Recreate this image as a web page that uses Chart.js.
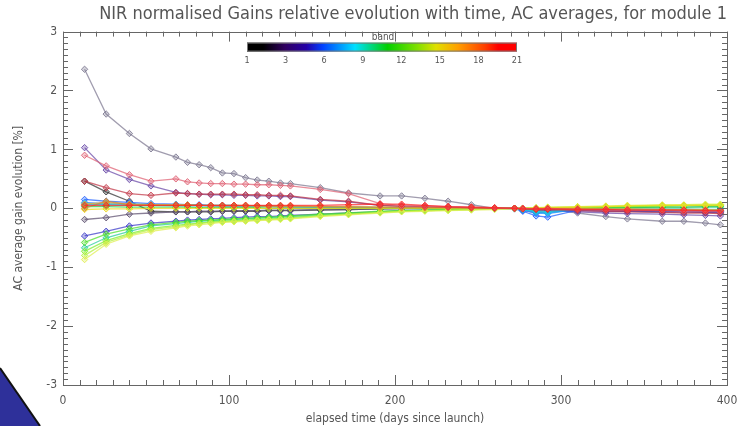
<!DOCTYPE html>
<html><head><meta charset="utf-8">
<script src="https://cdn.jsdelivr.net/npm/chart.js@4.4.1/dist/chart.umd.min.js"></script>
<style>html,body{margin:0;padding:0;background:#fff}#wrap{width:740px;height:426px;position:relative}</style>
</head><body><div id="wrap"><canvas id="c" width="740" height="426"></canvas></div>
<script>
// ---------- DATA ----------
const days = [13, 26, 40, 53, 68, 75, 82, 89, 96, 103, 110, 117, 124, 131, 137, 155, 172, 191, 204, 218, 232, 246, 260, 272, 277, 285, 292, 310, 327, 340, 361, 374, 387, 396];

const band1  = [0.46, 0.28, 0.12, -0.05, -0.06, -0.06, -0.06, -0.06, -0.05, -0.05, -0.05, -0.05, -0.04, -0.04, -0.04, -0.03, -0.02, -0.01, 0.00, 0.00, 0.00, 0.00, 0.00, 0.00, 0.00, -0.02, -0.01, -0.02, -0.03, -0.03, -0.04, -0.05, -0.05, -0.06];
const band2  = [2.36, 1.60, 1.27, 1.01, 0.87, 0.78, 0.74, 0.69, 0.60, 0.59, 0.52, 0.48, 0.46, 0.43, 0.42, 0.35, 0.26, 0.21, 0.21, 0.17, 0.12, 0.06, 0.00, 0.00, -0.03, -0.03, -0.01, -0.08, -0.14, -0.18, -0.22, -0.22, -0.25, -0.28];
const band3  = [-0.19, -0.16, -0.10, -0.08, -0.06, -0.06, -0.05, -0.05, -0.05, -0.04, -0.04, -0.04, -0.03, -0.03, -0.03, -0.02, -0.02, -0.01, -0.01, 0.00, 0.00, 0.00, 0.00, 0.00, -0.02, -0.04, -0.03, -0.03, -0.04, -0.05, -0.06, -0.06, -0.07, -0.08];
const band4  = [1.03, 0.65, 0.49, 0.38, 0.27, 0.25, 0.24, 0.23, 0.23, 0.22, 0.22, 0.21, 0.21, 0.20, 0.20, 0.14, 0.11, 0.05, 0.03, 0.02, 0.01, 0.00, 0.00, -0.01, -0.03, -0.06, -0.04, -0.06, -0.08, -0.09, -0.10, -0.11, -0.12, -0.13];
const band5  = [-0.47, -0.39, -0.30, -0.25, -0.22, -0.20, -0.19, -0.18, -0.17, -0.16, -0.15, -0.14, -0.14, -0.13, -0.12, -0.10, -0.08, -0.06, -0.04, -0.03, -0.02, -0.01, 0.00, 0.00, -0.03, -0.08, -0.06, -0.04, -0.05, -0.05, -0.06, -0.06, -0.07, -0.07];
const band6  = [0.15, 0.12, 0.10, 0.08, 0.07, 0.06, 0.06, 0.05, 0.05, 0.05, 0.04, 0.04, 0.04, 0.03, 0.03, 0.02, 0.02, 0.01, 0.01, 0.00, 0.00, 0.00, 0.00, -0.01, -0.05, -0.13, -0.15, -0.03, -0.03, -0.04, -0.04, -0.05, -0.05, -0.05];
const band7  = [0.10, 0.08, 0.07, 0.06, 0.05, 0.05, 0.05, 0.04, 0.04, 0.04, 0.04, 0.03, 0.03, 0.03, 0.03, 0.02, 0.02, 0.01, 0.01, 0.00, 0.00, 0.00, 0.00, 0.00, -0.03, -0.08, -0.09, -0.02, -0.02, -0.03, -0.03, -0.03, -0.04, -0.04];
const band8  = [0.06, 0.06, 0.05, 0.05, 0.04, 0.04, 0.04, 0.04, 0.03, 0.03, 0.03, 0.03, 0.03, 0.02, 0.02, 0.02, 0.01, 0.01, 0.00, 0.00, 0.00, 0.00, 0.00, 0.00, -0.02, -0.07, -0.08, -0.01, -0.01, -0.02, -0.02, -0.02, -0.03, -0.03];
const band9  = [0.08, 0.07, 0.07, 0.06, 0.06, 0.06, 0.05, 0.05, 0.05, 0.05, 0.04, 0.04, 0.04, 0.04, 0.03, 0.03, 0.02, 0.01, 0.01, 0.01, 0.00, 0.00, 0.00, 0.00, -0.02, -0.05, -0.06, 0.00, 0.00, -0.01, -0.01, -0.01, -0.02, -0.02];
const band10 = [-0.67, -0.50, -0.39, -0.30, -0.26, -0.24, -0.22, -0.21, -0.20, -0.19, -0.18, -0.17, -0.16, -0.15, -0.14, -0.11, -0.09, -0.06, -0.04, -0.03, -0.02, -0.01, 0.00, 0.00, 0.00, -0.01, 0.00, 0.00, 0.01, 0.01, 0.02, 0.02, 0.02, 0.02];
const band11 = [0.03, 0.03, 0.02, 0.02, 0.02, 0.02, 0.01, 0.01, 0.01, 0.01, 0.01, 0.01, 0.00, 0.00, 0.00, 0.00, 0.00, 0.00, 0.00, 0.00, 0.00, 0.00, 0.00, 0.00, -0.01, -0.02, -0.01, 0.00, 0.01, 0.01, 0.02, 0.02, 0.03, 0.03];
const band12 = [-0.58, -0.44, -0.35, -0.28, -0.24, -0.22, -0.21, -0.20, -0.19, -0.18, -0.17, -0.16, -0.15, -0.14, -0.13, -0.10, -0.08, -0.05, -0.04, -0.03, -0.02, -0.01, 0.00, 0.00, 0.00, 0.00, 0.01, 0.01, 0.02, 0.03, 0.04, 0.05, 0.05, 0.06];
const band13 = [-0.73, -0.55, -0.43, -0.34, -0.29, -0.27, -0.25, -0.23, -0.22, -0.21, -0.20, -0.19, -0.18, -0.17, -0.16, -0.12, -0.10, -0.07, -0.05, -0.04, -0.03, -0.02, -0.01, 0.00, 0.00, 0.00, 0.01, 0.02, 0.03, 0.03, 0.04, 0.05, 0.05, 0.05];
const band14 = [-0.80, -0.58, -0.45, -0.36, -0.31, -0.28, -0.26, -0.24, -0.23, -0.22, -0.21, -0.20, -0.19, -0.18, -0.17, -0.13, -0.10, -0.07, -0.05, -0.04, -0.03, -0.02, -0.01, 0.00, 0.00, 0.01, 0.01, 0.02, 0.03, 0.04, 0.05, 0.05, 0.06, 0.06];
const band15 = [-0.87, -0.61, -0.47, -0.39, -0.33, -0.30, -0.28, -0.26, -0.24, -0.23, -0.22, -0.21, -0.20, -0.19, -0.18, -0.14, -0.11, -0.08, -0.06, -0.05, -0.04, -0.03, -0.02, -0.01, 0.00, 0.01, 0.02, 0.03, 0.04, 0.05, 0.06, 0.06, 0.07, 0.07];
const band16 = [-0.02, -0.01, -0.01, 0.00, 0.00, 0.00, 0.00, 0.00, 0.00, 0.00, 0.00, 0.00, 0.00, 0.00, 0.00, 0.00, 0.00, 0.00, 0.00, 0.00, 0.00, 0.00, 0.00, 0.00, 0.00, 0.00, 0.01, 0.02, 0.03, 0.04, 0.05, 0.05, 0.05, 0.05];
const band17 = [0.07, 0.10, 0.07, 0.06, 0.06, 0.06, 0.05, 0.05, 0.05, 0.05, 0.05, 0.04, 0.04, 0.04, 0.04, 0.03, 0.03, 0.02, 0.02, 0.01, 0.01, 0.01, 0.00, 0.00, 0.00, 0.00, 0.00, 0.00, -0.01, -0.01, -0.02, -0.02, -0.02, -0.03];
const band18 = [0.00, 0.12, 0.06, 0.05, 0.05, 0.05, 0.05, 0.04, 0.04, 0.04, 0.04, 0.04, 0.03, 0.03, 0.03, 0.03, 0.02, 0.02, 0.01, 0.01, 0.01, 0.00, 0.00, 0.00, 0.00, -0.01, -0.01, -0.01, -0.02, -0.02, -0.02, -0.03, -0.03, -0.03];
const band19 = [0.46, 0.35, 0.25, 0.22, 0.26, 0.25, 0.24, 0.24, 0.24, 0.24, 0.23, 0.23, 0.22, 0.22, 0.21, 0.15, 0.12, 0.05, 0.04, 0.03, 0.02, 0.01, 0.00, 0.00, -0.01, -0.02, -0.02, -0.04, -0.05, -0.06, -0.07, -0.08, -0.08, -0.09];
const band20 = [0.90, 0.72, 0.57, 0.46, 0.50, 0.45, 0.43, 0.42, 0.42, 0.41, 0.41, 0.40, 0.40, 0.39, 0.38, 0.32, 0.25, 0.08, 0.05, 0.04, 0.03, 0.02, 0.01, 0.00, 0.00, -0.01, 0.00, -0.02, -0.03, -0.03, -0.04, -0.05, -0.05, -0.06];
const band21 = [0.05, 0.05, 0.05, 0.05, 0.05, 0.05, 0.05, 0.05, 0.05, 0.05, 0.05, 0.05, 0.05, 0.05, 0.05, 0.05, 0.06, 0.07, 0.07, 0.05, 0.03, 0.02, 0.01, 0.00, -0.01, -0.01, -0.01, -0.02, -0.02, -0.03, -0.03, -0.03, -0.04, -0.04];

const bandSeries = [band1, band2, band3, band4, band5, band6, band7, band8, band9, band10, band11, band12, band13, band14, band15, band16, band17, band18, band19, band20, band21];
const colorbarLabels = ['1', '3', '6', '9', '12', '15', '18', '21'];
const yTicks = [-3, -2, -1, 0, 1, 2, 3];
const xTicks = [0, 100, 200, 300, 400];

// ---------- STYLES ----------
const bandColors = ['#333333', '#7f7a92', '#5e5070', '#6a4aa8', '#3c3cc8', '#2060ff', '#2e8cff', '#18b0f0', '#22d2d8', '#26cc9c',
                    '#2cc83c', '#4ede2a', '#7cee2c', '#b2f040', '#e0ee50', '#ecd81c', '#f0a828', '#d08a38', '#c23848', '#e06274', '#ff2424'];
const FONT = "'Liberation Sans Narrow', 'DejaVu Sans Condensed', 'Liberation Sans', sans-serif";
const TXT = '#555555';

const datasets = bandSeries.map((vals, i) => ({
  label: 'band ' + (i + 1),
  data: days.map((d, j) => ({ x: d, y: vals[j] })),
  borderColor: bandColors[i] + 'bb',
  backgroundColor: bandColors[i] + '55',
  pointBackgroundColor: bandColors[i] + '55',
  pointBorderColor: bandColors[i] + 'dd',
  pointStyle: 'rectRot',
  pointRadius: 3.2,
  pointBorderWidth: 1,
  borderWidth: 1.3,
  tension: 0,
  fill: false,
  order: bandSeries.length - i
}));

const decor = {
  id: 'decor',
  beforeDraw(chart) {
    const ctx = chart.ctx;
    ctx.save(); ctx.fillStyle = '#fff'; ctx.fillRect(0, 0, chart.width, chart.height); ctx.restore();
  },
  afterDraw(chart) {
    const { ctx, chartArea: a, scales: { x, y } } = chart;
    ctx.save();
    ctx.strokeStyle = '#666'; ctx.lineWidth = 1;
    ctx.strokeRect(Math.round(a.left) + 0.5, Math.round(a.top) + 0.5, Math.round(a.right - a.left), Math.round(a.bottom - a.top));
    ctx.beginPath();
    for (let k = -30; k <= 30; k++) {
      const p = Math.round(y.getPixelForValue(k / 10)) + 0.5;
      const L = (k % 10 === 0) ? 10 : 5;
      ctx.moveTo(a.left, p); ctx.lineTo(a.left + L, p);
      ctx.moveTo(a.right, p); ctx.lineTo(a.right - L, p);
    }
    for (let k = 0; k <= 40; k++) {
      const p = Math.round(x.getPixelForValue(k * 10)) + 0.5;
      const L = (k % 10 === 0) ? 10 : 5;
      ctx.moveTo(p, a.bottom); ctx.lineTo(p, a.bottom - L);
      ctx.moveTo(p, a.top); ctx.lineTo(p, a.top + L);
    }
    ctx.stroke();

    // colour bar legend
    const cbL = a.left + 184, cbR = a.left + 454, cbT = a.top + 11, cbB = a.top + 20;
    const g = ctx.createLinearGradient(cbL, 0, cbR, 0);
    [[0, '#000000'], [0.06, '#000000'], [0.14, '#300060'], [0.22, '#2400a8'], [0.28, '#0040ff'], [0.40, '#00e0ff'],
     [0.52, '#00d000'], [0.63, '#80e000'], [0.70, '#e0e000'], [0.78, '#ffa000'], [0.88, '#ff4000'], [0.93, '#ff0000'], [1, '#ff0000']]
      .forEach(s => g.addColorStop(s[0], s[1]));
    ctx.fillStyle = g;
    ctx.fillRect(cbL, cbT, cbR - cbL, cbB - cbT);
    ctx.strokeStyle = '#777'; ctx.strokeRect(cbL + 0.5, cbT + 0.5, cbR - cbL - 1, cbB - cbT - 1);
    ctx.fillStyle = TXT; ctx.font = "9px " + FONT; ctx.textAlign = 'center'; ctx.textBaseline = 'middle';
    colorbarLabels.forEach((t, i) => {
      const px = cbL + (cbR - cbL) * i / (colorbarLabels.length - 1);
      ctx.fillText(t, px, cbB + 9);
    });
    ctx.font = "10px " + FONT;
    ctx.fillText('band', (cbL + cbR) / 2 + 1, cbT - 5);

    // corner decoration
    ctx.beginPath();
    ctx.moveTo(0, 368); ctx.lineTo(40, 426); ctx.lineTo(0, 426); ctx.closePath();
    ctx.fillStyle = '#2e309a'; ctx.fill();
    ctx.beginPath(); ctx.moveTo(0, 368); ctx.lineTo(40, 426);
    ctx.strokeStyle = '#111'; ctx.lineWidth = 2; ctx.stroke();
    ctx.restore();
  }
};

new Chart(document.getElementById('c'), {
  type: 'line',
  data: { datasets },
  plugins: [decor],
  options: {
    responsive: false,
    animation: false,
    devicePixelRatio: 1,
    layout: { padding: { left: 0, right: 13, top: 0, bottom: 0 } },
    plugins: {
      legend: { display: false },
      tooltip: { enabled: false },
      title: {
        display: true,
        text: 'NIR normalised Gains relative evolution with time, AC averages, for module 1',
        align: 'end',
        color: TXT,
        font: { family: FONT, size: 18, weight: 'normal' },
        padding: { top: 4, bottom: 6 }
      }
    },
    scales: {
      x: {
        type: 'linear', min: 0, max: 400,
        afterBuildTicks: s => { s.ticks = xTicks.map(v => ({ value: v })); },
        afterFit: s => { s.height = 41; s.paddingLeft = 0; s.paddingRight = 0; },
        grid: { display: false, drawTicks: false },
        border: { display: false },
        ticks: { color: TXT, font: { family: FONT, size: 12 }, padding: 9, maxRotation: 0 },
        title: { display: true, text: 'elapsed time (days since launch)', color: TXT, font: { family: FONT, size: 12 }, padding: { top: 2, bottom: 0 } }
      },
      y: {
        type: 'linear', min: -3, max: 3,
        afterBuildTicks: s => { s.ticks = yTicks.map(v => ({ value: v })); },
        afterFit: s => { s.width = 63; s.paddingTop = 0; s.paddingBottom = 0; },
        grid: { display: false, drawTicks: false },
        border: { display: false },
        ticks: { color: TXT, font: { family: FONT, size: 12 }, padding: 6 },
        title: { display: true, text: 'AC average gain evolution [%]', color: TXT, font: { family: FONT, size: 12 }, padding: { top: 12, bottom: 0 } }
      }
    }
  }
});
</script>
</body></html>
